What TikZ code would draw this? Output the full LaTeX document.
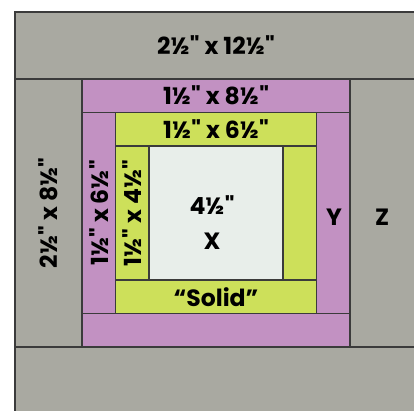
\documentclass[tikz,border=0pt]{standalone}
\usepackage{fontspec}
\setmainfont{Poppins}[Ligatures=TeXOff]
\usepackage{tikz}
\usetikzlibrary{positioning}
\definecolor{quiltgrey}{HTML}{A9A9A1}
\definecolor{quiltpurple}{HTML}{C291C2}
\definecolor{quiltgreen}{HTML}{CDE05A}
\definecolor{quiltwhite}{HTML}{E8EEEA}
\definecolor{seam}{HTML}{3B3B3B}
\tikzset{
    patch/.style={draw=seam, line width=0.9pt, inner sep=0pt, outer sep=0pt,
        font=\fontsize{20}{24}\selectfont\bfseries},
    cut/.style={font=\fontsize{20}{24}\selectfont\bfseries, inner sep=0pt}
}

\begin{document}
\begin{tikzpicture}
    \useasboundingbox (-0.448,0.358) rectangle (11.91,-11.91);
    \clip (-0.448,0.358) rectangle (11.91,-11.91);

    % Outer border (Z)
    \node[patch, fill=quiltgrey, minimum width=12cm, minimum height=2cm] (ztop) at (6,-1) {2½" x 12½"};
    \node[patch, fill=quiltgrey, minimum width=12cm, minimum height=2cm] (zbottom) at (6,-11) {};
    \node[patch, fill=quiltgrey, minimum width=8cm, minimum height=2cm, rotate=90] (zleft) at (1,-6) {2½" x 8½"};
    \node[patch, fill=quiltgrey, minimum width=2cm, minimum height=8cm] (zright) at (11,-6) {};

    % Middle border (Y)
    \node[patch, fill=quiltpurple, minimum width=8cm, minimum height=1cm] (ytop) at (6,-2.5) {1½" x 8½"};
    \node[patch, fill=quiltpurple, minimum width=8cm, minimum height=1cm] (ybottom) at (6,-9.5) {};
    \node[patch, fill=quiltpurple, minimum width=6cm, minimum height=1cm, rotate=90] (yleft) at (2.5,-6) {1½" x 6½"};
    \node[patch, fill=quiltpurple, minimum width=1cm, minimum height=6cm] (yright) at (9.5,-6) {};

    % Inner border (solid)
    \node[patch, fill=quiltgreen, minimum width=6cm, minimum height=1cm] (stop) at (6,-3.5) {1½" x 6½"};
    \node[patch, fill=quiltgreen, minimum width=6cm, minimum height=1cm] (sbottom) at (6,-8.5) {“Solid”};
    \node[patch, fill=quiltgreen, minimum width=4cm, minimum height=1cm, rotate=90] (sleft) at (3.5,-6) {1½" x 4½"};
    \node[patch, fill=quiltgreen, minimum width=1cm, minimum height=4cm] (sright) at (8.5,-6) {};

    % Centre square (X)
    \node[patch, fill=quiltwhite, minimum width=4cm, minimum height=4cm] (centre) at (6,-6) {};

    % Labels
    \node[cut] (xsize) at (5.88,-5.76) {4½"};
    \node[cut] (xname) at (5.88,-6.84) {X};
    \node[cut] (yname) at (9.52,-6.12) {Y};
    \node[cut] (zname) at (10.96,-6.12) {Z};
\end{tikzpicture}
\end{document}
